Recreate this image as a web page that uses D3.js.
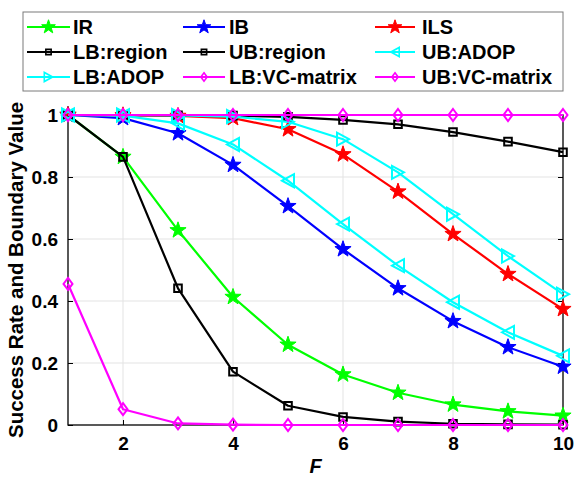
<!DOCTYPE html>
<html>
<head>
<meta charset="utf-8">
<script src="https://cdn.jsdelivr.net/npm/d3@7"></script>
<style>
  html, body { margin: 0; padding: 0; background: #fff; }
  svg { display: block; font-family: "Liberation Sans", Arial, sans-serif; }
</style>
</head>
<body>
<svg id="chart" width="577" height="478"></svg>
<script>
// ---- data ----
const xValues = [1, 2, 3, 4, 5, 6, 7, 8, 9, 10];
const xTicks = [2, 4, 6, 8, 10];
const yTicks = [0, 0.2, 0.4, 0.6, 0.8, 1];
const yTickLabels = ["0", "0.2", "0.4", "0.6", "0.8", "1"];

const IR        = [1.0, 0.865, 0.628, 0.413, 0.259, 0.163, 0.104, 0.066, 0.044, 0.030];
const IB        = [1.0, 0.99, 0.941, 0.839, 0.706, 0.567, 0.441, 0.335, 0.251, 0.188];
const ILS       = [1.0, 0.999, 0.997, 0.99, 0.954, 0.873, 0.753, 0.616, 0.487, 0.374];
const LBregion  = [1.0, 0.865, 0.441, 0.172, 0.062, 0.026, 0.011, 0.004, 0.002, 0.001];
const UBregion  = [1.0, 1.0, 0.999, 0.998, 0.994, 0.984, 0.970, 0.945, 0.914, 0.880];
const UBADOP    = [1.0, 0.998, 0.973, 0.905, 0.788, 0.648, 0.514, 0.396, 0.299, 0.223];
const LBADOP    = [1.0, 1.0, 0.999, 0.995, 0.978, 0.922, 0.815, 0.680, 0.545, 0.422];
const LBVC      = [0.455, 0.051, 0.005, 0.001, 0.0, 0.0, 0.0, 0.0, 0.0, 0.0];
const UBVC      = [1, 1, 1, 1, 1, 1, 1, 1, 1, 1];

const seriesNames = ["IR", "IB", "ILS", "LB:region", "UB:region", "UB:ADOP", "LB:ADOP", "LB:VC-matrix", "UB:VC-matrix"];
const seriesData  = [IR, IB, ILS, LBregion, UBregion, UBADOP, LBADOP, LBVC, UBVC];
const seriesColors = ["#00ff00", "#0000ff", "#ff0000", "#000000", "#000000", "#00ffff", "#00ffff", "#ff00ff", "#ff00ff"];
const seriesMarkers = ["star", "star", "star", "square", "square", "triLeft", "triRight", "diamond", "diamond"];

// ---- layout ----
const svg = d3.select("#chart");
const x = d3.scaleLinear().domain([1, 10]).range([68, 563]);
const y = d3.scaleLinear().domain([0, 1]).range([425, 115]);

function markerPath(type, s) {
  if (type === "star") {
    const R = 8.5 * s, r = R * 0.40;
    const pts = [];
    for (let i = 0; i < 10; i++) {
      const a = -Math.PI / 2 + i * Math.PI / 5;
      const rr = i % 2 === 0 ? R : r;
      pts.push([rr * Math.cos(a), rr * Math.sin(a)]);
    }
    return "M" + pts.map(p => p.join(",")).join("L") + "Z";
  }
  if (type === "square") {
    const h = 3.8 * s;
    return `M${-h},${-h}L${h},${-h}L${h},${h}L${-h},${h}Z`;
  }
  if (type === "diamond") {
    const w = 4.5 * s, h = 6 * s;
    return `M0,${-h}L${w},0L0,${h}L${-w},0Z`;
  }
  if (type === "triRight") {
    const w = 6 * s, h = 6.5 * s;
    return `M${w},0L${-w},${-h}L${-w},${h}Z`;
  }
  if (type === "triLeft") {
    const w = 6 * s, h = 6.5 * s;
    return `M${-w},0L${w},${-h}L${w},${h}Z`;
  }
}

// grid
const g = svg.append("g");
g.selectAll("line.vgrid").data(xTicks.filter(d => d < 10)).enter().append("line")
  .attr("x1", d => x(d)).attr("x2", d => x(d)).attr("y1", y(0)).attr("y2", y(1))
  .attr("stroke", "#e3e3e3").attr("stroke-width", 1);
g.selectAll("line.hgrid").data(yTicks.filter(d => d > 0 && d < 1)).enter().append("line")
  .attr("x1", x(1)).attr("x2", x(10)).attr("y1", d => y(d)).attr("y2", d => y(d))
  .attr("stroke", "#e3e3e3").attr("stroke-width", 1);

// box
svg.append("rect").attr("x", x(1)).attr("y", y(1)).attr("width", x(10) - x(1)).attr("height", y(0) - y(1))
  .attr("fill", "none").attr("stroke", "#000").attr("stroke-width", 1.3);

// axes
const xAxis = d3.axisBottom(x).tickValues(xTicks).tickSizeInner(-5).tickSizeOuter(0).tickPadding(12);
const xg = svg.append("g").attr("transform", `translate(0,${y(0)})`).call(xAxis);
xg.select(".domain").remove();
xg.selectAll("text").attr("font-size", 19).attr("font-weight", "bold").attr("fill", "#000")
  .attr("font-family", "Liberation Sans, Arial, sans-serif");
xg.selectAll("line").attr("stroke", "#000");

const yAxis = d3.axisLeft(y).tickValues(yTicks).tickFormat((d, i) => yTickLabels[i]).tickSizeInner(-5).tickSizeOuter(0).tickPadding(10);
const yg = svg.append("g").attr("transform", `translate(${x(1)},0)`).call(yAxis);
yg.select(".domain").remove();
yg.selectAll("text").attr("font-size", 19).attr("font-weight", "bold").attr("fill", "#000")
  .attr("font-family", "Liberation Sans, Arial, sans-serif");
yg.selectAll("line").attr("stroke", "#000");

const yAxisR = d3.axisRight(y).tickValues(yTicks).tickSizeInner(-5).tickSizeOuter(0).tickFormat("");
const ygr = svg.append("g").attr("transform", `translate(${x(10)},0)`).call(yAxisR);
ygr.select(".domain").remove();
ygr.selectAll("line").attr("stroke", "#000");

// axis titles
svg.append("text").attr("x", (x(1) + x(10)) / 2).attr("y", 473).attr("text-anchor", "middle")
  .attr("font-size", 20).attr("font-weight", "bold").attr("font-style", "italic").text("F");
svg.append("text").attr("transform", `translate(23,${(y(0) + y(1)) / 2}) rotate(-90)`)
  .attr("text-anchor", "middle").attr("font-size", 20.5).attr("font-weight", "bold")
  .text("Success Rate and Boundary Value");

// series
const line = d3.line().x((d, i) => x(xValues[i])).y(d => y(d));
seriesData.forEach((data, k) => {
  const col = seriesColors[k];
  const sg = svg.append("g");
  sg.append("path").datum(data).attr("d", line).attr("fill", "none")
    .attr("stroke", col).attr("stroke-width", 2.2).attr("stroke-linejoin", "round");
  const isStar = seriesMarkers[k] === "star";
  sg.selectAll("path.m").data(data).enter().append("path")
    .attr("transform", (d, i) => `translate(${x(xValues[i])},${y(d)})`)
    .attr("d", markerPath(seriesMarkers[k], 1))
    .attr("fill", isStar ? col : "none")
    .attr("stroke", col).attr("stroke-width", isStar ? 1 : 2);
});

// legend
const lg = svg.append("g");
lg.append("rect").attr("x", 23).attr("y", 12).attr("width", 540).attr("height", 79)
  .attr("fill", "#fff").attr("stroke", "#7a7a7a").attr("stroke-width", 1);
const colLine = [[27, 70, 73], [183, 225, 229], [375, 415, 422]];
const rowY = [27, 52, 77];
seriesNames.forEach((name, k) => {
  const c = colLine[k % 3], r = rowY[Math.floor(k / 3)];
  const col = seriesColors[k];
  lg.append("line").attr("x1", c[0]).attr("x2", c[1]).attr("y1", r).attr("y2", r)
    .attr("stroke", col).attr("stroke-width", 2.2);
  const isStar = seriesMarkers[k] === "star";
  lg.append("path").attr("transform", `translate(${(c[0] + c[1]) / 2},${r})`)
    .attr("d", markerPath(seriesMarkers[k], isStar ? 0.85 : 0.7))
    .attr("fill", isStar ? col : "none").attr("stroke", col).attr("stroke-width", isStar ? 1 : 1.6);
  lg.append("text").attr("x", c[2]).attr("y", r + 7).attr("font-size", 20).attr("font-weight", "bold")
    .attr("fill", "#000").text(name);
});
</script>
</body>
</html>
